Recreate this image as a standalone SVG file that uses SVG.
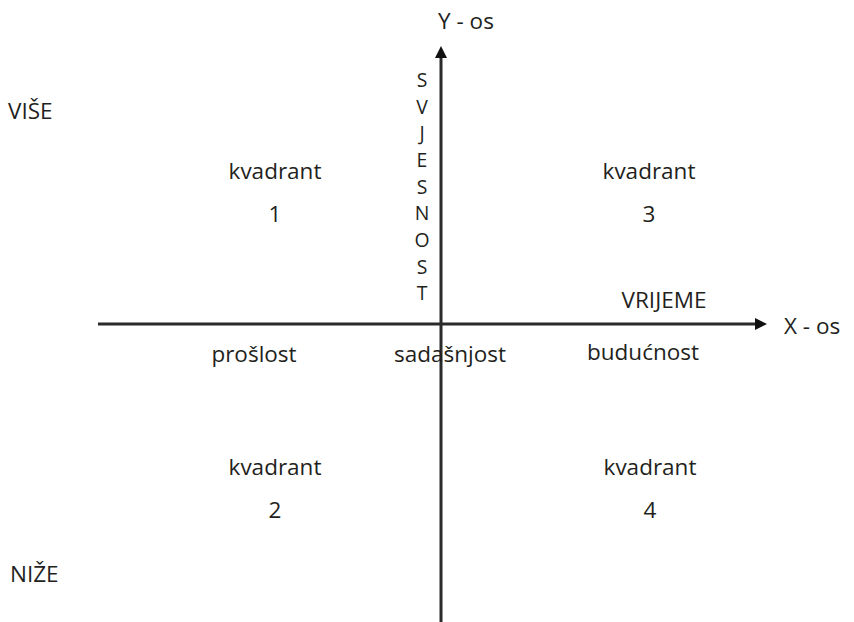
<svg xmlns="http://www.w3.org/2000/svg" width="854" height="622" viewBox="0 0 854 622">
<style>
text{font-family:"Open Sans","Noto Sans","Liberation Sans",sans-serif;font-size:22.5px;fill:#231f20}
.c{text-anchor:middle}
.v{font-size:19.4px}
.ax{stroke:#2b2b2b;stroke-width:3;fill:none}
</style>
<defs>
<marker id="ah" viewBox="0 0 10 10" refX="0" refY="5" markerWidth="20" markerHeight="12" markerUnits="userSpaceOnUse" orient="auto">
<path d="M0,0 L10,5 L0,10 z" fill="#111"/>
</marker>
</defs>
<rect width="854" height="622" fill="#fff"/>
<g id="connectors">
<line class="ax" x1="98" y1="324" x2="755" y2="324" marker-end="url(#ah)"/>
<line class="ax" x1="441" y1="622" x2="441" y2="58" marker-end="url(#ah)"/>
</g>
<g id="y-axis-label"><text x="466" y="29" class="c">Y - os</text></g>
<g id="x-axis-label"><text x="784" y="334">X - os</text></g>
<g id="svjesnost">
<text class="c v" x="422" y="87">S</text>
<text class="c v" x="422" y="114">V</text>
<text class="c v" x="422" y="140">J</text>
<text class="c v" x="422" y="167">E</text>
<text class="c v" x="422" y="194">S</text>
<text class="c v" x="422" y="220">N</text>
<text class="c v" x="422" y="247">O</text>
<text class="c v" x="422" y="274">S</text>
<text class="c v" x="422" y="300">T</text>
</g>
<g id="vise"><text x="8" y="119">VIŠE</text></g>
<g id="nize"><text x="10" y="582">NIŽE</text></g>
<g id="vrijeme"><text x="664" y="308" class="c">VRIJEME</text></g>
<g id="q1"><text x="275" y="179" class="c">kvadrant</text><text x="275" y="222" class="c">1</text></g>
<g id="q3"><text x="649" y="179" class="c">kvadrant</text><text x="649" y="222" class="c">3</text></g>
<g id="q2"><text x="275" y="475" class="c">kvadrant</text><text x="275" y="518" class="c">2</text></g>
<g id="q4"><text x="650" y="475" class="c">kvadrant</text><text x="650" y="518" class="c">4</text></g>
<g id="proslost"><text x="254" y="362" class="c">prošlost</text></g>
<g id="sadasnjost"><text x="450" y="362" class="c">sadašnjost</text></g>
<g id="buducnost"><text x="643" y="360" class="c">budućnost</text></g>
</svg>
